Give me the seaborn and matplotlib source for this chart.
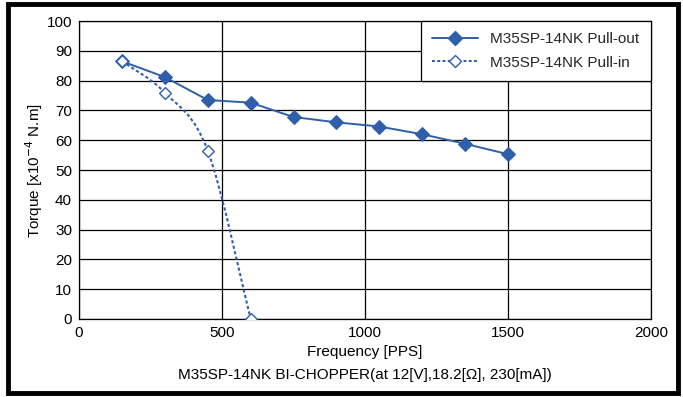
import numpy as np
import pandas as pd
import matplotlib; matplotlib.use("Agg")
import matplotlib.pyplot as plt
import seaborn as sns
from matplotlib.path import Path
from matplotlib.patches import PathPatch, Rectangle
from matplotlib.lines import Line2D

# ── 数据 ──────────────────────────────────────────────────────
pullout_freq = [150, 300, 450, 600, 750, 900, 1050, 1200, 1350, 1500]
pullout_torque = [86.5, 81.2, 73.5, 72.6, 67.8, 66.0, 64.6, 62.0, 58.8, 55.3]
pullin_freq = [150, 300, 450, 600]
pullin_torque = [86.5, 76.0, 56.5, 0.0]

COLOR = "#2F5FAA"
FS = 11

sns.set_theme(style="white")
plt.rcParams["font.family"] = ["Liberation Sans", "DejaVu Sans"]
plt.rcParams["font.size"] = FS

df_out = pd.DataFrame({"freq": pullout_freq, "torque": pullout_torque})
df_in = pd.DataFrame({"freq": pullin_freq, "torque": pullin_torque})

fig = plt.figure(figsize=(6.83, 3.97), dpi=100)
ax = fig.add_axes([0.1157, 0.1965, 0.9532 - 0.1157, 0.947 - 0.1965])

# 外框
fig.patches.append(Rectangle((0.011, 0.011), 0.982, 0.978, transform=fig.transFigure,
                             fill=False, edgecolor="black", linewidth=3.5))

ax.set_xlim(0, 2000)
ax.set_ylim(0, 100)
ax.set_xticks(range(0, 2001, 500))
ax.set_yticks(range(0, 101, 10))
ax.grid(True, color="black", linewidth=0.9)
ax.set_axisbelow(True)
for s in ax.spines.values():
    s.set_color("black")
    s.set_linewidth(0.9)
ax.tick_params(axis="both", length=0, labelsize=FS, colors="black", pad=5)

# Pull-out：直线 + 实心菱形
sns.lineplot(data=df_out, x="freq", y="torque", ax=ax, color=COLOR, linewidth=1.4,
             marker="D", markersize=7, markeredgecolor=COLOR, markerfacecolor=COLOR,
             zorder=4)

# Pull-in：平滑虚线（Catmull-Rom -> Bezier，经数据坐标绘制）
pts = np.column_stack([pullin_freq, pullin_torque]).astype(float)
verts, codes = [pts[0]], [Path.MOVETO]
for i in range(len(pts) - 1):
    p0 = pts[i - 1] if i > 0 else pts[i]
    p1, p2 = pts[i], pts[i + 1]
    p3 = pts[i + 2] if i + 2 < len(pts) else pts[i + 1]
    c1 = p1 + (p2 - p0) / 6.0
    c2 = p2 - (p3 - p1) / 6.0
    verts += [c1, c2, p2]
    codes += [Path.CURVE4] * 3
ax.add_patch(PathPatch(Path(verts, codes), fill=False, edgecolor=COLOR, linewidth=1.5,
                       linestyle=(0, (1.5, 1.2)), zorder=3))
sns.scatterplot(data=df_in, x="freq", y="torque", ax=ax, marker="D", s=36,
                facecolor="white", edgecolor=COLOR, linewidth=1.0, zorder=5)

ax.set_xlabel("Frequency [PPS]", fontsize=FS, color="black", labelpad=4)
ax.set_ylabel("Torque [x10$^{-4}$ N.m]", fontsize=FS, color="black", labelpad=1)
fig.text(0.5345, 0.055, "M35SP-14NK BI-CHOPPER(at 12[V],18.2[Ω], 230[mA])",
         ha="center", va="center", fontsize=FS, color="black")

handles = [
    Line2D([], [], color=COLOR, linewidth=1.4, marker="D", markersize=7,
           markerfacecolor=COLOR, markeredgecolor=COLOR),
    Line2D([], [], color=COLOR, linewidth=1.4, linestyle=(0, (1.5, 1.2)), marker="D",
           markersize=6, markerfacecolor="white", markeredgecolor=COLOR),
]
leg = ax.legend(handles, ["M35SP-14NK Pull-out", "M35SP-14NK Pull-in"],
                loc="upper right", bbox_to_anchor=(1.0, 1.0), borderaxespad=0,
                fancybox=False, framealpha=1, edgecolor="black", fontsize=FS,
                handlelength=3.0, borderpad=0.75, labelspacing=0.6, handletextpad=0.8)
leg.get_frame().set_linewidth(0.9)

fig.savefig("out.png", dpi=100)
